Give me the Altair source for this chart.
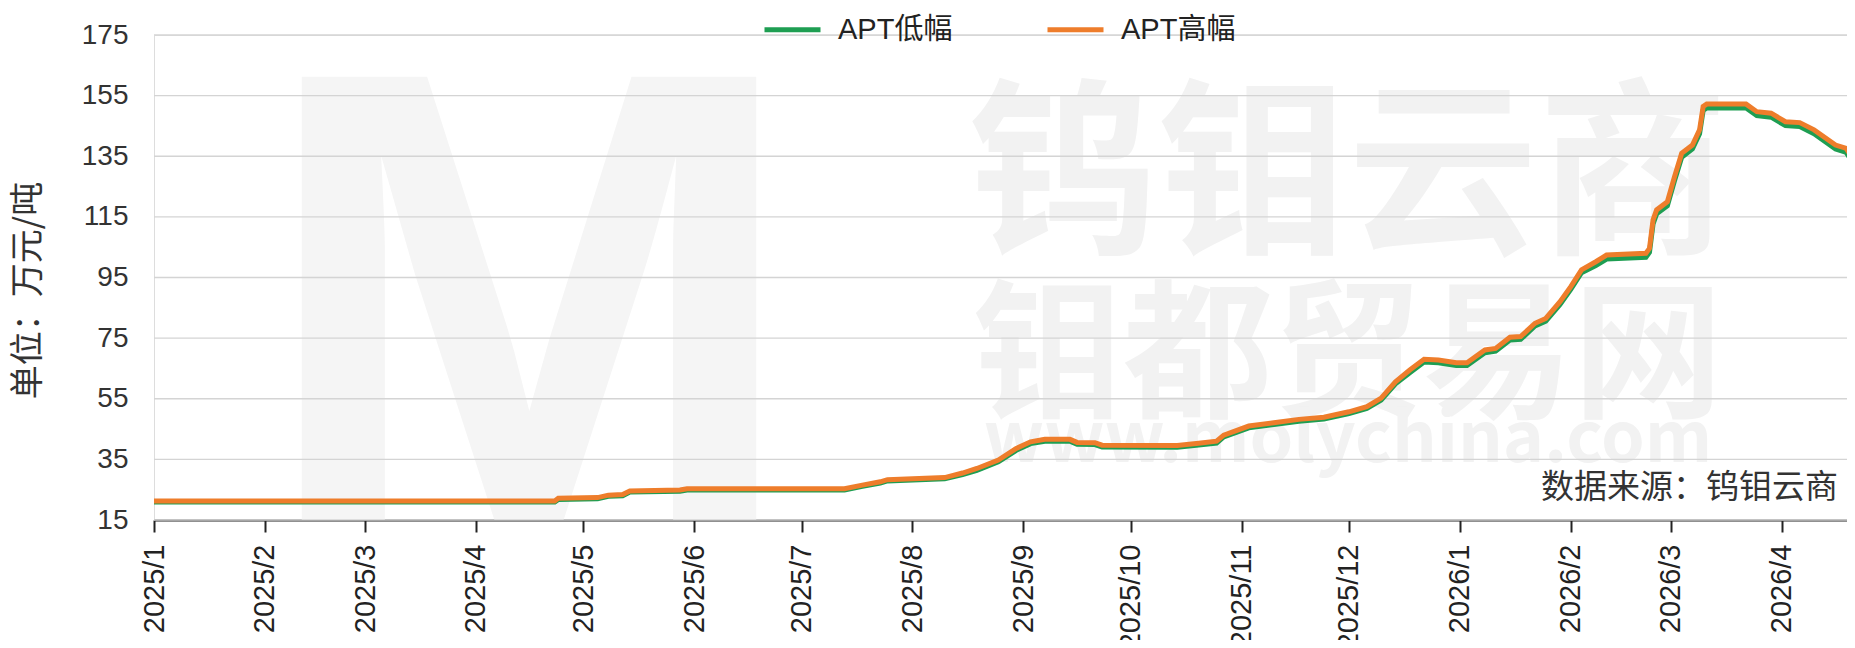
import altair as alt
import pandas as pd

# ---- data ----
dates = ["2025/01/01", "2025/04/23", "2025/04/24", "2025/05/05", "2025/05/08", "2025/05/12",
         "2025/05/14", "2025/05/28", "2025/05/30", "2025/07/13", "2025/07/18", "2025/07/23",
         "2025/07/25", "2025/08/10", "2025/08/15", "2025/08/19", "2025/08/25", "2025/08/30",
         "2025/09/03", "2025/09/07", "2025/09/14", "2025/09/16", "2025/09/21", "2025/09/23",
         "2025/10/14", "2025/10/20", "2025/10/25", "2025/10/27", "2025/11/03", "2025/11/10",
         "2025/11/17", "2025/11/24", "2025/12/01", "2025/12/06", "2025/12/10", "2025/12/14",
         "2025/12/18", "2025/12/22", "2025/12/26", "2025/12/31", "2026/01/03", "2026/01/08",
         "2026/01/11", "2026/01/15", "2026/01/18", "2026/01/22", "2026/01/25", "2026/01/29",
         "2026/02/01", "2026/02/04", "2026/02/08", "2026/02/11", "2026/02/22", "2026/02/23",
         "2026/02/24", "2026/02/25", "2026/02/28", "2026/03/02", "2026/03/04", "2026/03/07",
         "2026/03/09", "2026/03/10", "2026/03/11", "2026/03/22", "2026/03/25", "2026/03/29",
         "2026/04/02", "2026/04/06", "2026/04/10", "2026/04/16", "2026/04/19", "2026/04/21"]

apt_high = [21.3, 21.3, 22.2, 22.4, 23.2, 23.4, 24.6, 24.9, 25.3, 25.3,
            26.5, 27.6, 28.3, 29.0, 30.5, 32.0, 34.8, 38.6, 40.8, 41.6,
            41.6, 40.6, 40.5, 39.7, 39.6, 40.3, 41.0, 43.0, 46.0, 47.1,
            48.2, 48.9, 50.7, 52.4, 55.2, 60.6, 64.5, 68.0, 67.8, 66.9,
            66.9, 71.1, 71.6, 75.3, 75.5, 79.9, 81.5, 87.0, 92.0, 97.5,
            100.2, 102.4, 103.0, 104.6, 114.0, 117.3, 120.0, 128.3, 136.0, 138.7,
            143.7, 151.4, 152.2, 152.2, 149.7, 149.2, 146.4, 146.1, 143.7, 138.7,
            137.6, 133.8]

apt_low = [20.9, 20.9, 21.8, 22.0, 22.8, 23.0, 24.2, 24.5, 24.9, 24.9,
           26.1, 27.2, 27.9, 28.6, 30.0, 31.4, 34.2, 38.0, 40.2, 41.0,
           41.0, 40.0, 39.9, 39.1, 39.0, 39.7, 40.4, 42.4, 45.4, 46.5,
           47.6, 48.3, 50.1, 51.8, 54.6, 59.9, 63.6, 67.1, 66.9, 66.0,
           66.0, 70.2, 70.7, 74.4, 74.6, 79.0, 80.6, 86.1, 91.1, 96.6,
           98.9, 101.1, 101.7, 103.3, 112.7, 116.0, 118.7, 127.0, 134.7, 137.4,
           142.4, 150.1, 150.9, 150.9, 148.4, 147.9, 145.1, 144.8, 142.4, 137.4,
           136.3, 132.5]

series_names = ["APT低幅", "APT高幅"]
series_colors = ["#1E9E52", "#EE7D2B"]
y_ticks = [15, 35, 55, 75, 95, 115, 135, 155, 175]
month_ticks = [(2025, m) for m in range(1, 13)] + [(2026, m) for m in range(1, 5)]

y_title = "单位：万元/吨"
source_text = "数据来源：钨钼云商"
wm_logo = "M"
wm_main = "钨钼云商"
wm_sub = "钼都贸易网"
wm_url = "www.molychina.com"

# ---- build table ----
df = pd.DataFrame({
    "date": dates * 2,
    "value": apt_low + apt_high,
    "series": [series_names[0]] * len(dates) + [series_names[1]] * len(dates),
})
grid_df = pd.DataFrame({"value": y_ticks})

W, H = 1693, 485
FONT = "Liberation Sans, Noto Sans CJK SC"
CJK = "Noto Sans CJK SC, Liberation Sans"

x_scale = alt.Scale(domain=[alt.DateTime(year=2025, month=1, date=1),
                            alt.DateTime(year=2026, month=4, date=19, hours=5)])
y_scale = alt.Scale(domain=[15, 175], nice=False, zero=False)
color_scale = alt.Scale(domain=series_names, range=series_colors)

x_enc = alt.X("date:T", scale=x_scale,
              axis=alt.Axis(values=[alt.DateTime(year=yy, month=mm, date=1) for yy, mm in month_ticks],
                            format="%Y/%-m", labelAngle=270, labelFontSize=29, labelColor="#222222",
                            labelPadding=12, tickSize=12, tickWidth=2, tickColor="#222222",
                            domainWidth=2, domainColor="#222222", grid=False, title=None,
                            labelFont=FONT, labelOverlap=False))
y_axis = alt.Axis(values=y_ticks, labelFontSize=28, labelColor="#333333", labelPadding=26,
                  ticks=False, domain=False, grid=False, title=y_title,
                  titleFontSize=34, titleFontWeight="normal", titleColor="#333333",
                  titlePadding=36, titleY=255, titleFont=CJK, labelFont=FONT)
y_enc = alt.Y("value:Q", scale=y_scale, axis=y_axis)

legend = alt.Legend(orient="none", legendX=608, legendY=-36, direction="horizontal",
                    title=None, symbolType="stroke", symbolSize=3136, symbolStrokeWidth=5,
                    labelFontSize=29, labelFont=FONT, labelColor="#222222", labelOffset=15,
                    columnPadding=84, padding=0)

color_enc = alt.Color("series:N", scale=color_scale, legend=legend, sort=series_names)

# faint watermark
wm_layers = [
    alt.Chart(pd.DataFrame({"t": [wm_logo]})).mark_text(
        font="Liberation Sans", fontSize=650, fontWeight="bold", color="#f5f5f5",
        align="center", baseline="alphabetic", clip=True
    ).encode(text="t:N", x=alt.value(375), y=alt.value(489))
]
for txt, xv, yv, fs in [
    (wm_main, 1194, 147, 190),
    (wm_sub, 1194, 326, 150),
    (wm_url, 1194, 406, 70),
]:
    wm_layers.append(
        alt.Chart(pd.DataFrame({"t": [txt]})).mark_text(
            font=CJK, fontSize=fs, fontWeight="bold", color="#f2f2f2", align="center",
            baseline="middle", clip=True
        ).encode(text="t:N", x=alt.value(xv), y=alt.value(yv))
    )

grid = alt.Chart(grid_df).mark_rule(color="#d4d4d4", strokeWidth=1.3).encode(y=y_enc)

line_low = alt.Chart(df).transform_filter(alt.datum.series == series_names[0]).mark_line(
    strokeWidth=5, clip=True).encode(x=x_enc, y=y_enc, color=color_enc)
line_high = alt.Chart(df).transform_filter(alt.datum.series == series_names[1]).mark_line(
    strokeWidth=5, clip=True).encode(x=x_enc, y=y_enc, color=color_enc)

source = alt.Chart(pd.DataFrame({"t": [source_text]})).mark_text(
    font=CJK, fontSize=33, color="#333333", align="right", baseline="middle"
).encode(text="t:N", x=alt.value(W - 9), y=alt.value(453))

chart = alt.layer(*wm_layers, grid, line_low, line_high, source).properties(
    width=W, height=H,
    autosize=alt.AutoSizeParams(type="none"),
    padding={"left": 146, "top": 27, "right": 0, "bottom": 120},
).configure_view(stroke=None).configure(font=FONT)

chart.save("out.html", embed_options={"renderer": "svg", "actions": False})
